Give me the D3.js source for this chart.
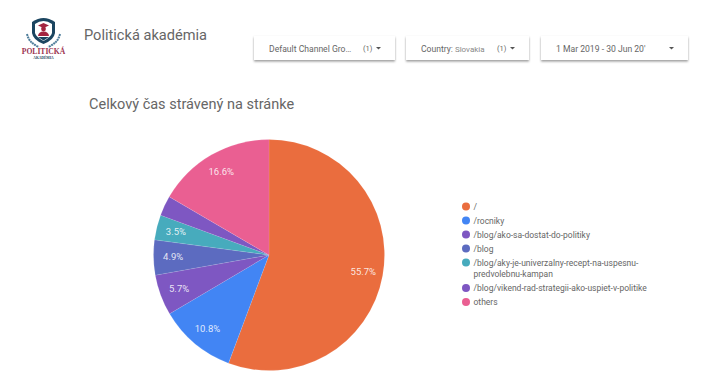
<!DOCTYPE html>
<html lang="en"><head>
<meta charset="utf-8">
<title>Celkový čas strávený na stránke</title>
<script src="https://cdnjs.cloudflare.com/ajax/libs/d3/7.8.5/d3.min.js"></script>
<style>
  html, body { margin: 0; background: #fff; overflow: hidden; }
  text { font-family: Roboto, sans-serif; }
</style>
</head>
<body>
<svg id="chart" width="720" height="391"></svg>
<script>
const pages = ["/", "/rocniky", "/blog/ako-sa-dostat-do-politiky", "/blog",
  "/blog/aky-je-univerzalny-recept-na-uspesnu-predvolebnu-kampan",
  "/blog/vikend-rad-strategii-ako-uspiet-v-politike", "others"]
const shares = [55.7, 10.8, 5.7, 4.9, 3.5, 2.8, 16.6]
const colors = ["#ea6d3e", "#4285f4", "#7e57c2", "#5c6bc0", "#47abbd", "#7e57c2", "#ea5f92"]
const legendLines = [["/"], ["/rocniky"], ["/blog/ako-sa-dostat-do-politiky"], ["/blog"],
  ["/blog/aky-je-univerzalny-recept-na-uspesnu-", "predvolebnu-kampan"],
  ["/blog/vikend-rad-strategii-ako-uspiet-v-politike"], ["others"]]
const filters = [
  {x: 254, w: 141, label: "Default Channel Gro…", count: "(1)"},
  {x: 406, w: 123, label: "Country:", extra: "Slovakia", count: "(1)"},
  {x: 541, w: 147, label: "1 Mar 2019 - 30 Jun 20'", count: ""}
]

let svg = d3.select("#chart")

svg.append("defs").append("filter")
  .attr("id", "shadow")
  .attr("x", "-5%").attr("y", "-10%").attr("width", "110%").attr("height", "130%")
  .append("feDropShadow")
  .attr("dx", 0).attr("dy", 1.5).attr("stdDeviation", 1)
  .attr("flood-color", "#000").attr("flood-opacity", 0.4)

// logo, drawn roughly
let logo = svg.append("g")
logo.append("path")
  .attr("d", "M32 22 Q38 18 43.5 18 Q49 18 55 22 L55 33 Q54 40 43.5 44 Q33 40 32 33 Z")
  .attr("fill", "#1b4560")
logo.append("path")
  .attr("d", "M35 24 Q39 21 43.5 21 Q48 21 52 24 L52 33 Q51 37 43.5 41 Q36 37 35 33 Z")
  .attr("fill", "#fff")
logo.append("path").attr("d", "M38 25.5 L43.5 23 L49 25.5 L43.5 28 Z").attr("fill", "#a3243f")
logo.append("circle").attr("cx", 43.5).attr("cy", 29).attr("r", 2.4).attr("fill", "#a3243f")
logo.append("path").attr("d", "M38 36 Q38.5 31.5 43.5 31.5 Q48.5 31.5 49 36 Z").attr("fill", "#a3243f")
logo.append("path").attr("d", "M38 37 H49 L43.5 40.5 Z").attr("fill", "#1b4560")
logo.append("path").attr("d", "M27 34 Q29 43 39 47").attr("fill", "none")
  .attr("stroke", "#4d7c9a").attr("stroke-width", 2).attr("stroke-dasharray", "2 0.6")
logo.append("path").attr("d", "M60 34 Q58 43 48 47").attr("fill", "none")
  .attr("stroke", "#4d7c9a").attr("stroke-width", 2).attr("stroke-dasharray", "2 0.6")
logo.append("text").text("POLITICKÁ")
  .attr("x", 43.5).attr("y", 54)
  .attr("text-anchor", "middle")
  .style("font-family", "'Liberation Serif', serif")
  .style("font-weight", 700).style("font-size", "7.6px")
  .attr("fill", "#9c3350")
logo.append("text").text("AKADÉMIA")
  .attr("x", 43.5).attr("y", 59)
  .attr("text-anchor", "middle")
  .style("font-family", "'Liberation Serif', serif")
  .style("font-size", "3.6px").style("font-weight", 700)
  .attr("fill", "#1b4560")

svg.append("text").text("Politická akadémia")
  .attr("x", 84).attr("y", 39.5)
  .style("font-size", "14.6px").attr("fill", "#666")

// filter controls
let filter = svg.selectAll("g.filter").data(filters).join("g")
  .attr("class", "filter")
  .attr("transform", d => `translate(${d.x},36)`)
filter.append("rect")
  .attr("width", d => d.w).attr("height", 24)
  .attr("fill", "#fff").attr("filter", "url(#shadow)")
let label = filter.append("text")
  .attr("x", 15).attr("y", 15.5)
  .style("font-size", "8.6px").attr("fill", "#666")
label.append("tspan").text(d => d.label)
label.append("tspan").text(d => d.extra ? " " + d.extra : "").attr("fill", "#888").style("font-size", "8px")
filter.append("text").text(d => d.count)
  .attr("x", d => d.w - 32).attr("y", 15)
  .style("font-size", "7.5px").attr("fill", "#666")
filter.append("path")
  .attr("d", d => `M${d.w - 19} 11 h5 l-2.5 2.6 Z`)
  .attr("fill", "#555")

svg.append("text").text("Celkový čas strávený na stránke")
  .attr("x", 89).attr("y", 109)
  .style("font-size", "14.5px").attr("fill", "#666")

// pie
const radius = 115.5
let pie = d3.pie().sort(null)
let arc = d3.arc().innerRadius(0).outerRadius(radius)
let labelArc = d3.arc().innerRadius(radius * 0.83).outerRadius(radius * 0.83)
let slices = svg.append("g").attr("transform", "translate(269,255)")
  .selectAll("g").data(pie(shares)).join("g")
slices.append("path")
  .attr("d", arc)
  .attr("fill", (d, i) => colors[i])
  .attr("stroke", "#fff").attr("stroke-opacity", 0.25).attr("stroke-width", 0.4)
slices.filter(d => d.data > 3)
  .append("text")
  .text(d => d.data.toFixed(1) + "%")
  .attr("transform", d => `translate(${labelArc.centroid(d)})`)
  .attr("text-anchor", "middle").attr("dy", "0.35em")
  .style("font-size", "9.5px").attr("fill", "#fff").attr("fill-opacity", 0.85)

// legend
const rowY = [206.5, 220.5, 234.5, 248.5, 262.5, 288, 302]
let legend = svg.selectAll("g.legend").data(pages).join("g")
  .attr("class", "legend")
  .attr("transform", (d, i) => `translate(466,${rowY[i]})`)
legend.append("circle")
  .attr("r", 4).attr("fill", (d, i) => colors[i])
legend.append("text")
  .style("font-size", "8.5px").attr("fill", "#666")
  .selectAll("tspan").data((d, i) => legendLines[i]).join("tspan")
  .attr("x", 7.5)
  .attr("y", (d, i) => 3.2 + i * 11)
  .text(d => d)
</script>
</body>
</html>
